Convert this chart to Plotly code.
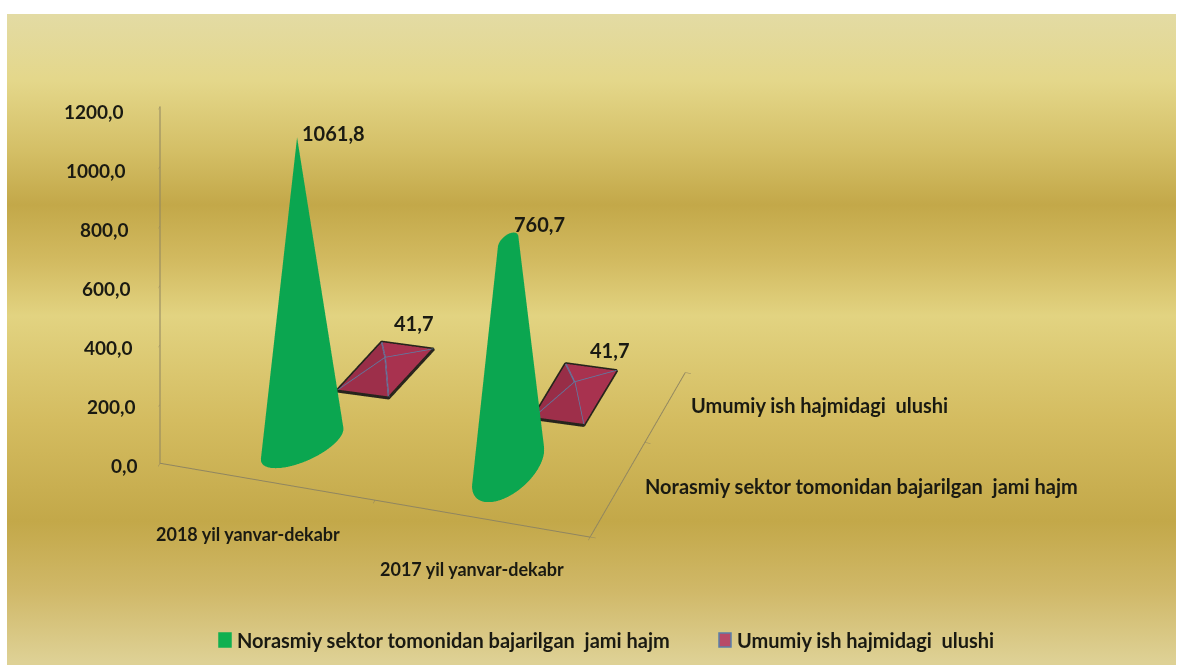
import base64
import numpy as np
import plotly.graph_objects as go

categories = ["2018 yil yanvar-dekabr", "2017 yil yanvar-dekabr"]
series_names = ["Norasmiy sektor tomonidan bajarilgan  jami hajm", "Umumiy ish hajmidagi  ulushi"]
informal_volume = [1061.8, 760.7]
share_of_total = [41.7, 41.7]
value_labels_a = ["1061,8", "760,7"]
value_labels_b = ["41,7", "41,7"]
z_ticks = [0, 200, 400, 600, 800, 1000, 1200]
z_tick_labels = ["0,0", "200,0", "400,0", "600,0", "800,0", "1000,0", "1200,0"]

FONT = "Lato"
INK = "#1a1a12"
AXIS = "#8f8560"
GREEN = "#0ba650"

svg = """<svg xmlns='http://www.w3.org/2000/svg' width='1182' height='670' viewBox='0 0 1182 670' preserveAspectRatio='none'>
<defs><linearGradient id='g' x1='0' y1='0' x2='0' y2='1'>
<stop offset='0' stop-color='#e3dba4'/><stop offset='0.103' stop-color='#e4d78a'/>
<stop offset='0.21' stop-color='#d4bf66'/><stop offset='0.293' stop-color='#c3a849'/>
<stop offset='0.378' stop-color='#d2ba60'/><stop offset='0.464' stop-color='#e2d381'/>
<stop offset='0.624' stop-color='#d4bc60'/><stop offset='0.779' stop-color='#c3a849'/>
<stop offset='0.885' stop-color='#d0b868'/><stop offset='0.995' stop-color='#ded195'/>
</linearGradient></defs>
<rect width='1182' height='670' fill='white'/>
<rect x='7' y='14' width='1169' height='651' fill='url(#g)'/></svg>"""
bg = "data:image/svg+xml;base64," + base64.b64encode(svg.encode()).decode()

fig = go.Figure()
# placement of the marks on the floor of the box (the source's perspective skews them)
cone_x, cone_y = [0.555, 1.485], [0.479, 0.605]
cone_u = [(0.14, 0.233), (0.113, 0.245)]
cone_v = [(0.035, -0.22), (0.06, -0.337)]
cone_lean = [-0.107, 0.0]
pyr_x, pyr_y = [0.7245, 1.586], [1.458, 1.547]
pyr_ex = [(0.237, 0.021), (0.233, 0.02)]
pyr_ey = [(0.071, 0.626), (0.0055, 0.669)]
tip = max(informal_volume)

theta = np.linspace(0, 2 * np.pi, 121)
for cx, cy, u, w, lean, v in zip(cone_x, cone_y, cone_u, cone_v, cone_lean, informal_volume):
    h = np.array([0, v * 0.25, v * 0.5, v * 0.75, v])
    T, H = np.meshgrid(theta, h)
    shrink = 1 - H / tip
    fig.add_trace(go.Surface(
        x=cx + shrink * (u[0] * np.cos(T) + w[0] * np.sin(T)),
        y=cy + shrink * (u[1] * np.cos(T) + w[1] * np.sin(T)) + lean * H / tip, z=H,
        surfacecolor=np.zeros_like(H), colorscale=[[0, GREEN], [1, GREEN]], showscale=False,
        lighting=dict(ambient=1.0, diffuse=0.12, specular=0.02, roughness=1, fresnel=0),
        lightposition=dict(x=0, y=-1000, z=500), hoverinfo="skip", showlegend=False))

for cx, cy, ex, ey, v in zip(pyr_x, pyr_y, pyr_ex, pyr_ey, share_of_total):
    sx = [-0.5, 0.5, 0.5, -0.5]
    sy = [-0.5, -0.5, 0.5, 0.5]
    xs = [cx + a * ex[0] + b * ey[0] for a, b in zip(sx, sy)] + [cx]
    ys = [cy + a * ex[1] + b * ey[1] for a, b in zip(sx, sy)] + [cy]
    zs = [0, 0, 0, 0, v]
    fig.add_trace(go.Mesh3d(x=xs, y=ys, z=zs, i=[0, 1, 2, 3], j=[1, 2, 3, 0], k=[4, 4, 4, 4],
                            color="#a8324f", flatshading=True, hoverinfo="skip", showlegend=False,
                            lighting=dict(ambient=0.9, diffuse=0.2, specular=0, roughness=1)))
    fig.add_trace(go.Scatter3d(x=xs[:4] + xs[:1], y=ys[:4] + ys[:1], z=[0] * 5, mode="lines",
                               line=dict(color="#26241c", width=6), hoverinfo="skip", showlegend=False))
    for k in range(4):
        fig.add_trace(go.Scatter3d(x=[xs[k], xs[4]], y=[ys[k], ys[4]], z=[0, v], mode="lines",
                                   line=dict(color="#5a7fa8", width=3), hoverinfo="skip", showlegend=False))

def note(x, y, z, text, dx=0, dy=0, anchor="center", size=19):
    return dict(x=x, y=y, z=z, text=text, showarrow=False, xshift=dx, yshift=dy, xanchor=anchor,
                font=dict(family=FONT, size=size, color=INK, weight="bold"))

y_tick_pos = [0, 1.15, 2]
notes = []
for cx, cy, lab, v, dx, dy in zip(cone_x, cone_y, value_labels_a, informal_volume, [31, 31], [-4, 18]):
    notes.append(note(cx, cy, v, lab, dx, dy, size=20))
for cx, cy, lab, v, dx, dy in zip(pyr_x, pyr_y, value_labels_b, share_of_total, [28, 35], [35, 32]):
    notes.append(note(cx, cy, v, lab, dx, dy, size=20))
for cx, lab, dx, dy in zip([0.5, 1.5], categories, [-20, -11], [-52, -50]):
    notes.append(note(cx, 0, 0, lab, dx, dy, size=18))
for cy_, lab, dx, dy in zip([0.6, 1.6], series_names, [24, 23], [2, 0]):
    notes.append(note(2, cy_, 0, lab, dx, dy, "left", 20))
for t, lab in zip(z_ticks, z_tick_labels):
    notes.append(note(0, 0, t, lab, -20 - 14 * t / 1200, -2 - 3 * t / 1200, "right"))

axis = dict(showbackground=False, showgrid=False, zeroline=False, showline=True, linecolor=AXIS,
            linewidth=2, ticks="outside", ticklen=6, tickcolor=AXIS, showticklabels=False,
            title=dict(text=""), showspikes=False, autorange=False)

legend_font = dict(family=FONT, size=20, color=INK, weight="bold")
legend_items = [(series_names[0], 235, 219, "#10b050", "#10b050"),
                (series_names[1], 735, 719, "#b84a68", "#5a7fa8")]

fig.update_layout(
    width=1182, height=670, margin=dict(l=0, r=0, t=0, b=0), paper_bgcolor="rgba(0,0,0,0)",
    showlegend=False,
    images=[dict(source=bg, xref="paper", yref="paper", x=0, y=1, sizex=1, sizey=1,
                 sizing="stretch", layer="below")],
    font=dict(family=FONT, size=19, color=INK),
    annotations=[dict(xref="paper", yref="paper", x=px / 1182, y=1 - 640 / 670, text=name, showarrow=False,
                      xanchor="left", yanchor="middle", font=legend_font)
                 for name, px, _, _, _ in legend_items],
    shapes=[dict(type="rect", xref="paper", yref="paper", x0=sx / 1182, x1=(sx + 12) / 1182,
                 y0=1 - 647 / 670, y1=1 - 633 / 670, fillcolor=fill, line=dict(color=edge, width=1.5))
            for _, _, sx, fill, edge in legend_items],
    scene=dict(
        domain=dict(x=[0, 1], y=[0, 1]), bgcolor="rgba(0,0,0,0)",
        aspectmode="manual", aspectratio=dict(x=1.346, y=0.945, z=1.27),
        xaxis=dict(axis, range=[0, 2], tickvals=[0, 1, 2]),
        yaxis=dict(axis, range=[0, 2], tickvals=y_tick_pos),
        zaxis=dict(axis, range=[0, 1200], tickvals=z_ticks),
        camera=dict(projection=dict(type="orthographic"), up=dict(x=0, y=0, z=1),
                    center=dict(x=0.526, y=0.003, z=-0.239), eye=dict(x=1.131, y=-1.917, z=1.069)),
        annotations=notes))

fig.write_html("out.html", config=dict(displayModeBar=False),
               post_script="document.body.style.margin='0';")
